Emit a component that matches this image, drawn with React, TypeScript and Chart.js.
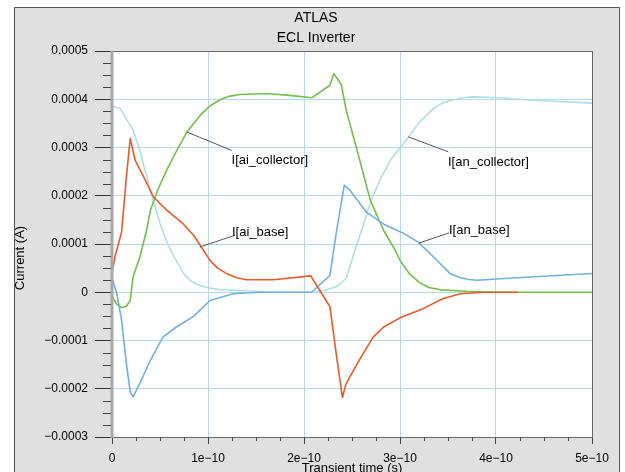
import { useEffect, useRef } from "react";
import { Chart, registerables } from "chart.js";

Chart.register(...registerables);

const FONT = '"Liberation Sans", Arial, Helvetica, sans-serif';

const chartTitle = "ATLAS";
const chartSubtitle = "ECL Inverter";
const xAxisTitle = "Transient time (s)";
const yAxisTitle = "Current (A)";

const xTickValues = [0, 1e-10, 2e-10, 3e-10, 4e-10, 5e-10];
const xTickLabels = ["0", "1e\u221210", "2e\u221210", "3e\u221210", "4e\u221210", "5e\u221210"];
const yTickValues = [-0.0003, -0.0002, -0.0001, 0, 0.0001, 0.0002, 0.0003, 0.0004, 0.0005];
const yTickLabels = ["\u22120.0003", "\u22120.0002", "\u22120.0001", "0", "0.0001", "0.0002", "0.0003", "0.0004", "0.0005"];

// I[ai_collector] (green)
const aiCollectorTime = [0, 0.05e-10, 0.1e-10, 0.15e-10, 0.19e-10, 0.22e-10, 0.29e-10, 0.36e-10, 0.4e-10, 0.48e-10, 0.57e-10, 0.67e-10, 0.78e-10, 0.92e-10, 1.02e-10, 1.125e-10, 1.22e-10, 1.33e-10, 1.61e-10, 1.85e-10, 2.08e-10, 2.27e-10, 2.31e-10, 2.35e-10, 2.39e-10, 2.44e-10, 2.58e-10, 2.69e-10, 2.83e-10, 2.95e-10, 3.0e-10, 3.1e-10, 3.21e-10, 3.3e-10, 3.42e-10, 3.69e-10, 4.0e-10, 5.0e-10];
const aiCollectorCurrent = [-0.08e-4, -0.25e-4, -0.32e-4, -0.29e-4, -0.17e-4, 0.32e-4, 0.73e-4, 1.28e-4, 1.7e-4, 2.14e-4, 2.53e-4, 2.92e-4, 3.32e-4, 3.67e-4, 3.86e-4, 3.99e-4, 4.06e-4, 4.1e-4, 4.12e-4, 4.08e-4, 4.03e-4, 4.29e-4, 4.53e-4, 4.42e-4, 4.29e-4, 3.77e-4, 2.74e-4, 1.91e-4, 1.28e-4, 0.87e-4, 0.66e-4, 0.38e-4, 0.19e-4, 0.1e-4, 0.05e-4, 0.02e-4, 0, 0];

// I[an_collector] (light cyan)
const anCollectorTime = [0, 0.083e-10, 0.19e-10, 0.22e-10, 0.29e-10, 0.4e-10, 0.5e-10, 0.58e-10, 0.67e-10, 0.75e-10, 0.81e-10, 0.9e-10, 0.99e-10, 1.1e-10, 1.26e-10, 1.6e-10, 1.9e-10, 2.1e-10, 2.24e-10, 2.35e-10, 2.44e-10, 2.53e-10, 2.6e-10, 2.7e-10, 2.8e-10, 2.9e-10, 3.09e-10, 3.2e-10, 3.35e-10, 3.45e-10, 3.56e-10, 3.65e-10, 3.76e-10, 4.04e-10, 4.39e-10, 5.0e-10];
const anCollectorCurrent = [3.85e-4, 3.81e-4, 3.46e-4, 3.36e-4, 2.94e-4, 2.11e-4, 1.42e-4, 1.0e-4, 0.65e-4, 0.38e-4, 0.25e-4, 0.15e-4, 0.1e-4, 0.06e-4, 0.04e-4, 0.01e-4, 0, 0, 0.05e-4, 0.13e-4, 0.29e-4, 0.87e-4, 1.28e-4, 1.91e-4, 2.36e-4, 2.74e-4, 3.22e-4, 3.52e-4, 3.81e-4, 3.93e-4, 3.99e-4, 4.03e-4, 4.05e-4, 4.03e-4, 3.98e-4, 3.92e-4];

// I[ai_base] (orange)
const aiBaseTime = [0, 0.03e-10, 0.1e-10, 0.15e-10, 0.19e-10, 0.24e-10, 0.33e-10, 0.43e-10, 0.57e-10, 0.74e-10, 0.85e-10, 0.92e-10, 1.02e-10, 1.1e-10, 1.19e-10, 1.3e-10, 1.4e-10, 1.68e-10, 2.07e-10, 2.27e-10, 2.34e-10, 2.4e-10, 2.43e-10, 2.44e-10, 2.58e-10, 2.72e-10, 2.83e-10, 3.0e-10, 3.24e-10, 3.45e-10, 3.63e-10, 3.87e-10, 4.23e-10];
const aiBaseCurrent = [0.39e-4, 0.73e-4, 1.25e-4, 2.39e-4, 3.19e-4, 2.74e-4, 2.39e-4, 1.98e-4, 1.7e-4, 1.42e-4, 1.18e-4, 0.97e-4, 0.66e-4, 0.5e-4, 0.39e-4, 0.3e-4, 0.26e-4, 0.26e-4, 0.34e-4, -0.3e-4, -1.34e-4, -2.18e-4, -1.95e-4, -1.89e-4, -1.39e-4, -0.93e-4, -0.72e-4, -0.53e-4, -0.34e-4, -0.13e-4, -0.03e-4, 0, 0];

// I[an_base] (blue)
const anBaseTime = [0, 0.05e-10, 0.1e-10, 0.15e-10, 0.19e-10, 0.22e-10, 0.29e-10, 0.4e-10, 0.53e-10, 0.67e-10, 0.85e-10, 1.02e-10, 1.26e-10, 1.54e-10, 2.08e-10, 2.27e-10, 2.34e-10, 2.42e-10, 2.48e-10, 2.65e-10, 2.83e-10, 3.03e-10, 3.19e-10, 3.35e-10, 3.52e-10, 3.63e-10, 3.7e-10, 3.8e-10, 4.22e-10, 5.0e-10];
const anBaseCurrent = [0.3e-4, -0.03e-4, -0.58e-4, -1.48e-4, -2.07e-4, -2.17e-4, -1.89e-4, -1.41e-4, -0.93e-4, -0.72e-4, -0.5e-4, -0.17e-4, -0.03e-4, 0, 0, 0.35e-4, 1.28e-4, 2.22e-4, 2.11e-4, 1.66e-4, 1.41e-4, 1.23e-4, 1.04e-4, 0.73e-4, 0.39e-4, 0.3e-4, 0.27e-4, 0.25e-4, 0.3e-4, 0.39e-4];

const seriesNames = ["I[ai_base]", "I[an_base]", "I[ai_collector]", "I[an_collector]"];
const seriesColors = ["#ea5a2c", "#72b0e2", "#74bf4c", "#b2dee2"];

// Annotation labels: curve point (data), leader end (data), text left/middle (data)
const labelAnchorT = [0.917e-10, 3.2e-10, 0.78e-10, 3.087e-10];
const labelAnchorI = [0.94e-4, 1.02e-4, 3.32e-4, 3.22e-4];
const labelEndT = [1.28e-10, 3.51e-10, 1.247e-10, 3.503e-10];
const labelEndI = [1.18e-4, 1.23e-4, 2.94e-4, 2.91e-4];
const labelTextT = [1.25e-10, 3.51e-10, 1.245e-10, 3.5e-10];
const labelTextI = [1.25e-4, 1.29e-4, 2.74e-4, 2.69e-4];

const GRID = "#b6d9f2";
const FRAME_BG = "#e0e0e0";

const framePlugin = {
  id: "atlasFrame",
  beforeDraw(chart: any) {
    const { ctx, chartArea: a } = chart;
    ctx.save();
    ctx.fillStyle = "#ffffff";
    ctx.fillRect(0, 0, chart.width, chart.height);
    ctx.fillStyle = FRAME_BG;
    ctx.fillRect(14, 7, 606, chart.height);
    ctx.strokeStyle = "#555";
    ctx.lineWidth = 1;
    ctx.beginPath();
    ctx.moveTo(14.5, chart.height);
    ctx.lineTo(14.5, 7.5);
    ctx.lineTo(619.5, 7.5);
    ctx.lineTo(619.5, chart.height);
    ctx.stroke();
    ctx.fillStyle = "#ffffff";
    ctx.fillRect(a.left, a.top, a.right - a.left, a.bottom - a.top);
    ctx.restore();
  },
  afterDatasetsDraw(chart: any) {
    const { ctx } = chart;
    const xs = chart.scales.x;
    const ys = chart.scales.y;
    ctx.save();
    ctx.strokeStyle = "#555";
    ctx.lineWidth = 1;
    ctx.fillStyle = "#000";
    ctx.font = `13px ${FONT}`;
    ctx.textAlign = "left";
    ctx.textBaseline = "middle";
    for (let i = 0; i < seriesNames.length; i++) {
      ctx.beginPath();
      ctx.moveTo(xs.getPixelForValue(labelAnchorT[i]), ys.getPixelForValue(labelAnchorI[i]));
      ctx.lineTo(xs.getPixelForValue(labelEndT[i]), ys.getPixelForValue(labelEndI[i]));
      ctx.stroke();
      ctx.fillText(seriesNames[i], xs.getPixelForValue(labelTextT[i]), ys.getPixelForValue(labelTextI[i]));
    }
    ctx.restore();
  },
  afterDraw(chart: any) {
    const { ctx, chartArea: a } = chart;
    const xs = chart.scales.x;
    const ys = chart.scales.y;
    ctx.save();
    // plot border
    ctx.strokeStyle = "#666";
    ctx.lineWidth = 1;
    ctx.strokeRect(a.left + 0.5, a.top + 0.5, a.right - a.left, a.bottom - a.top);
    // left axis bar
    ctx.strokeStyle = "#a8a8a8";
    ctx.lineWidth = 3;
    ctx.beginPath();
    ctx.moveTo(a.left, a.top);
    ctx.lineTo(a.left, a.bottom + 1);
    ctx.stroke();
    // minor ticks
    ctx.strokeStyle = "#444";
    ctx.lineWidth = 1;
    ctx.beginPath();
    for (let i = 0; i < yTickValues.length - 1; i++) {
      const step = (yTickValues[i + 1] - yTickValues[i]) / 4;
      for (let k = 1; k < 4; k++) {
        const py = Math.round(ys.getPixelForValue(yTickValues[i] + step * k)) + 0.5;
        ctx.moveTo(a.left - 9, py);
        ctx.lineTo(a.left - 1, py);
      }
    }
    for (let i = 0; i < xTickValues.length - 1; i++) {
      const step = (xTickValues[i + 1] - xTickValues[i]) / 4;
      for (let k = 1; k < 4; k++) {
        const px = Math.round(xs.getPixelForValue(xTickValues[i] + step * k)) + 0.5;
        ctx.moveTo(px, a.bottom);
        ctx.lineTo(px, a.bottom + 4);
      }
    }
    ctx.stroke();
    // titles
    ctx.fillStyle = "#000";
    ctx.textAlign = "center";
    ctx.textBaseline = "middle";
    ctx.font = `14px ${FONT}`;
    ctx.fillText(chartTitle, 316, 18);
    ctx.fillText(chartSubtitle, 316, 38);
    ctx.font = `13px ${FONT}`;
    ctx.textBaseline = "top";
    ctx.fillText(xAxisTitle, (a.left + a.right) / 2, 462);
    // y axis title, clipped by frame edge
    ctx.save();
    ctx.beginPath();
    ctx.rect(15, 0, 100, chart.height);
    ctx.clip();
    ctx.translate(24, 258);
    ctx.rotate(-Math.PI / 2);
    ctx.textBaseline = "alphabetic";
    ctx.fillText(yAxisTitle, 0, 0);
    ctx.restore();
    ctx.restore();
  },
};

export default function App() {
  const ref = useRef<HTMLCanvasElement>(null);
  useEffect(() => {
    document.body.style.margin = "0";
    const canvas = ref.current!;
    const mk = (t: number[], v: number[]) => t.map((x, i) => ({ x, y: v[i] }));
    const series = [
      mk(aiBaseTime, aiBaseCurrent),
      mk(anBaseTime, anBaseCurrent),
      mk(aiCollectorTime, aiCollectorCurrent),
      mk(anCollectorTime, anCollectorCurrent),
    ];
    const chart = new Chart(canvas, {
      type: "line",
      data: {
        datasets: series.map((d, i) => ({
          label: seriesNames[i],
          data: d,
          borderColor: seriesColors[i],
          backgroundColor: seriesColors[i],
          borderWidth: 1.6,
          pointRadius: 0,
          tension: 0,
          borderJoinStyle: "round",
          fill: false,
        })),
      },
      options: {
        responsive: false,
        maintainAspectRatio: false,
        animation: false,
        events: [],
        layout: { padding: { left: 0, right: 33, top: 51, bottom: 0 } },
        plugins: { legend: { display: false }, tooltip: { enabled: false }, title: { display: false } },
        scales: {
          x: {
            type: "linear",
            min: 0,
            max: 5e-10,
            afterBuildTicks: (s: any) => {
              s.ticks = xTickValues.map((value) => ({ value }));
            },
            afterFit: (s: any) => {
              s.height = 35;
            },
            ticks: {
              callback: (_v: any, i: number) => xTickLabels[i],
              font: { family: FONT, size: 12 },
              color: "#000",
              padding: 7,
              maxRotation: 0,
              autoSkip: false,
            },
            grid: { color: GRID, lineWidth: 1, tickColor: "#444", tickLength: 7, drawTicks: true },
            border: { display: false },
          },
          y: {
            type: "linear",
            min: -0.0003,
            max: 0.0005,
            afterBuildTicks: (s: any) => {
              s.ticks = yTickValues.map((value) => ({ value }));
            },
            afterFit: (s: any) => {
              s.width = 112;
            },
            ticks: {
              callback: (_v: any, i: number) => yTickLabels[i],
              font: { family: FONT, size: 12 },
              color: "#000",
              padding: 7,
              autoSkip: false,
            },
            grid: { color: GRID, lineWidth: 1, tickColor: "#333", tickLength: 17, drawTicks: true },
            border: { display: false },
          },
        },
      },
      plugins: [framePlugin],
    } as any);
    return () => chart.destroy();
  }, []);
  return (
    <div style={{ width: 625, height: 472 }}>
      <canvas ref={ref} width={625} height={472} style={{ display: "block" }} />
    </div>
  );
}
